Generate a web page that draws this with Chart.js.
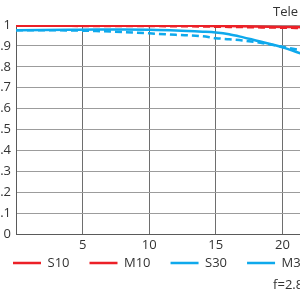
<!DOCTYPE html>
<html>
<head>
<meta charset="utf-8">
<script src="https://cdn.jsdelivr.net/npm/chart.js@4"></script>
<style>
  html, body { margin: 0; padding: 0; width: 300px; height: 300px; overflow: hidden; background: #fff; }
  /* chart is wider than the window on purpose: the reference is a crop */
  .chart-box { position: absolute; left: -7px; top: 0; width: 356px; height: 300px; }
</style>
</head>
<body>
<div class="chart-box"><canvas id="mtfChart"></canvas></div>
<script>
// image height (mm) from centre
const imageHeight = [0, 2, 4, 6, 8, 10, 12, 14, 15, 16, 17, 18, 19, 20, 21, 21.6];

const s10 = [0.997, 0.997, 0.997, 0.997, 0.997, 0.997, 0.996, 0.996, 0.995, 0.995, 0.994, 0.993, 0.992, 0.991, 0.990, 0.989];
const m10 = [0.996, 0.996, 0.996, 0.995, 0.995, 0.995, 0.994, 0.993, 0.992, 0.991, 0.990, 0.989, 0.988, 0.987, 0.986, 0.985];
const s30 = [0.975, 0.976, 0.977, 0.978, 0.978, 0.977, 0.974, 0.968, 0.964, 0.956, 0.942, 0.926, 0.910, 0.893, 0.872, 0.858];
const m30 = [0.975, 0.975, 0.974, 0.971, 0.966, 0.960, 0.953, 0.946, 0.937, 0.932, 0.926, 0.918, 0.908, 0.896, 0.884, 0.877];

const xStep = 5;
const yStep = 0.1;
const cornerLabel = 'Tele';
const apertureLabel = 'f=2.8';

const RED = '#ec2027';
const BLUE = '#0fa9ec';
const TEXT = '#333333';

function points(values) {
  return imageHeight.map((h, i) => ({ x: h, y: values[i] }));
}

// "Tele" top right and "f=2.8" bottom right
const cornerText = {
  id: 'cornerText',
  afterDraw(chart) {
    const { ctx, scales: { x } } = chart;
    const left = x.getPixelForValue(19.3);
    ctx.save();
    ctx.font = '13px "Open Sans"';
    ctx.fillStyle = TEXT;
    ctx.textAlign = 'left';
    ctx.textBaseline = 'middle';
    ctx.fillText(cornerLabel, left, chart.chartArea.top - 13);
    ctx.fillText(apertureLabel, left, 285);
    ctx.restore();
  }
};

new Chart(document.getElementById('mtfChart'), {
  type: 'line',
  data: {
    datasets: [
      { label: 'S10', data: points(s10), borderColor: RED, backgroundColor: RED, borderWidth: 2.5 },
      { label: 'M10', data: points(m10), borderColor: RED, backgroundColor: RED, borderWidth: 2.5, borderDash: [7, 4] },
      { label: 'S30', data: points(s30), borderColor: BLUE, backgroundColor: BLUE, borderWidth: 2.5 },
      { label: 'M30', data: points(m30), borderColor: BLUE, backgroundColor: BLUE, borderWidth: 2.5, borderDash: [7, 4] }
    ]
  },
  options: {
    responsive: true,
    maintainAspectRatio: false,
    animation: false,
    elements: {
      point: { radius: 0 },
      line: { cubicInterpolationMode: 'monotone', fill: false }
    },
    layout: { padding: { top: 25, bottom: 20.5, left: 0, right: 0 } },
    scales: {
      x: {
        type: 'linear',
        min: 0,
        max: 25,
        // thin axis box so the legend sits close; mirrored labels are not clipped to it
        afterFit(scale) { scale.height = 2.5; },
        grid: { color: '#6e6e6e', lineWidth: 1, drawTicks: false },
        border: { color: '#5a5a5a', width: 1 },
        ticks: {
          stepSize: xStep,
          autoSkip: false,
          maxRotation: 0,
          mirror: true,
          padding: -19.5,
          color: TEXT,
          font: { family: 'Open Sans', size: 13 },
          callback: v => (v === 0 ? '' : String(v))
        }
      },
      y: {
        min: 0,
        max: 1,
        afterFit(scale) { scale.width = 23; },
        grid: { color: '#9c9c9c', lineWidth: 1, drawTicks: false },
        border: { color: '#5a5a5a', width: 1 },
        ticks: {
          stepSize: yStep,
          padding: 5,
          color: TEXT,
          font: { family: 'Open Sans', size: 13 },
          callback: v => String(Number(v.toFixed(1)))
        }
      }
    },
    plugins: {
      tooltip: { enabled: false },
      legend: {
        position: 'bottom',
        align: 'start',
        labels: {
          usePointStyle: true,
          pointStyle: 'line',
          pointStyleWidth: 28,
          padding: 20,
          color: TEXT,
          font: { family: 'Open Sans', size: 13 }
        }
      }
    }
  },
  plugins: [cornerText]
});
</script>
</body>
</html>
